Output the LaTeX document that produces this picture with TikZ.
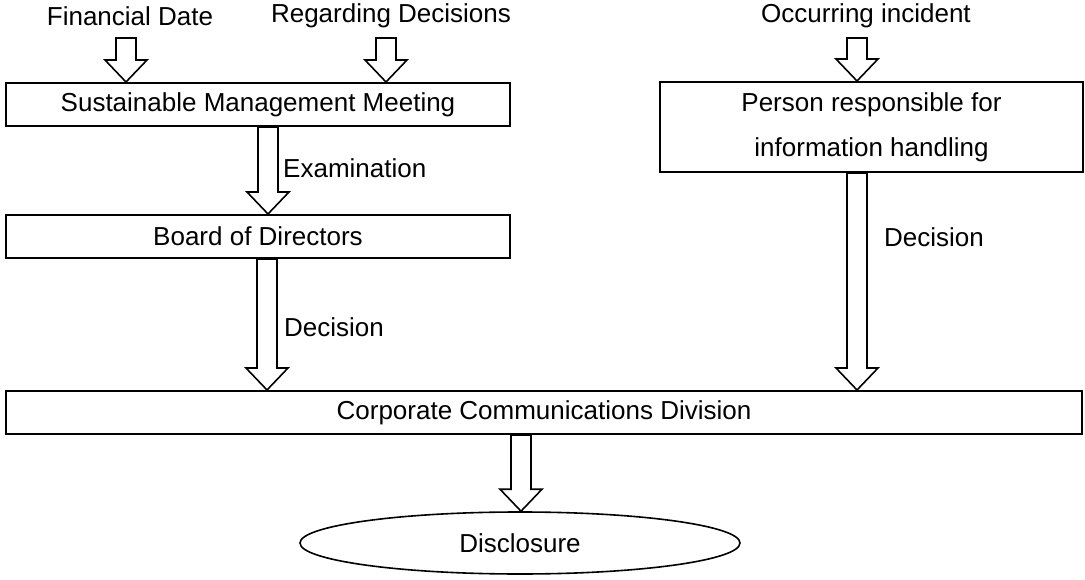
\documentclass[tikz,border=0pt]{standalone}
\usepackage{fontspec}
\setmainfont{Liberation Sans}
\usetikzlibrary{shapes.geometric,calc}
\tikzset{
  lbl/.style={font=\fontsize{26}{45}\selectfont, inner sep=0pt},
  box/.style={draw, line width=2pt, font=\fontsize{26}{45}\selectfont, inner sep=0pt, align=center},
  oval/.style={ellipse, draw, line width=1.6pt, font=\fontsize{26}{45}\selectfont, inner sep=0pt},
  barr/.style={draw, line width=1.6pt, fill=white, line join=miter},
}
\newcommand\blockarrow[2]{%
  \path[barr] let \p1=(#1), \p2=(#2) in
    (\x1-10pt,\y1) -- (\x1-10pt,\y2+22pt) -- (\x1-21pt,\y2+22pt) -- (\x1,\y2)
    -- (\x1+21pt,\y2+22pt) -- (\x1+10pt,\y2+22pt) -- (\x1+10pt,\y1) -- cycle;}
\begin{document}
\begin{tikzpicture}[x=1pt,y=-1pt]
\useasboundingbox (0,0) rectangle (1085,580);
% top labels
\node[lbl] (fd) at (130,16) {Financial Date};
\node[lbl] (rd) at (391,16) {Regarding Decisions};
\node[lbl] (oi) at (866,16) {Occurring incident};
% boxes
\node[box, minimum width=504pt, minimum height=43pt] (smm) at (258,104.5) {Sustainable Management Meeting};
\node[box, minimum width=504pt, minimum height=43pt] (bod) at (258,236.5) {Board of Directors};
\node[box, minimum width=423pt, minimum height=90pt] (prh) at (871.5,127) {Person responsible for\\information handling};
\node[box, minimum width=1076pt, minimum height=43pt] (ccd) at (544,412.5) {Corporate Communications Division};
\node[oval, minimum width=440pt, minimum height=62pt] (dis) at (520,543) {Disclosure};
% arrow anchor coordinates
\coordinate (a1s) at (126,38);  \coordinate (a1e) at (a1s |- smm.north);
\coordinate (a2s) at (386,38);  \coordinate (a2e) at (a2s |- smm.north);
\coordinate (a3s) at (857,38);  \coordinate (a3e) at (a3s |- prh.north);
\coordinate (x4) at (268,0); \coordinate (a4s) at (x4 |- smm.south); \coordinate (a4e) at (x4 |- bod.north);
\coordinate (x5) at (267,0); \coordinate (a5s) at (x5 |- bod.south); \coordinate (a5e) at (x5 |- ccd.north);
\coordinate (x6) at (857,0); \coordinate (a6s) at (x6 |- prh.south); \coordinate (a6e) at (x6 |- ccd.north);
\coordinate (x7) at (521,0); \coordinate (a7s) at (x7 |- ccd.south); \coordinate (a7e) at (x7 |- dis.north);
\blockarrow{a1s}{a1e}
\blockarrow{a2s}{a2e}
\blockarrow{a3s}{a3e}
\blockarrow{a4s}{a4e}
\blockarrow{a5s}{a5e}
\blockarrow{a6s}{a6e}
\blockarrow{a7s}{a7e}
% arrow labels
\node[lbl, anchor=west] (ex) at (283,168) {Examination};
\node[lbl, anchor=west] (d1) at (284,327) {Decision};
\node[lbl, anchor=west] (d2) at (884,237) {Decision};
\end{tikzpicture}
\end{document}
